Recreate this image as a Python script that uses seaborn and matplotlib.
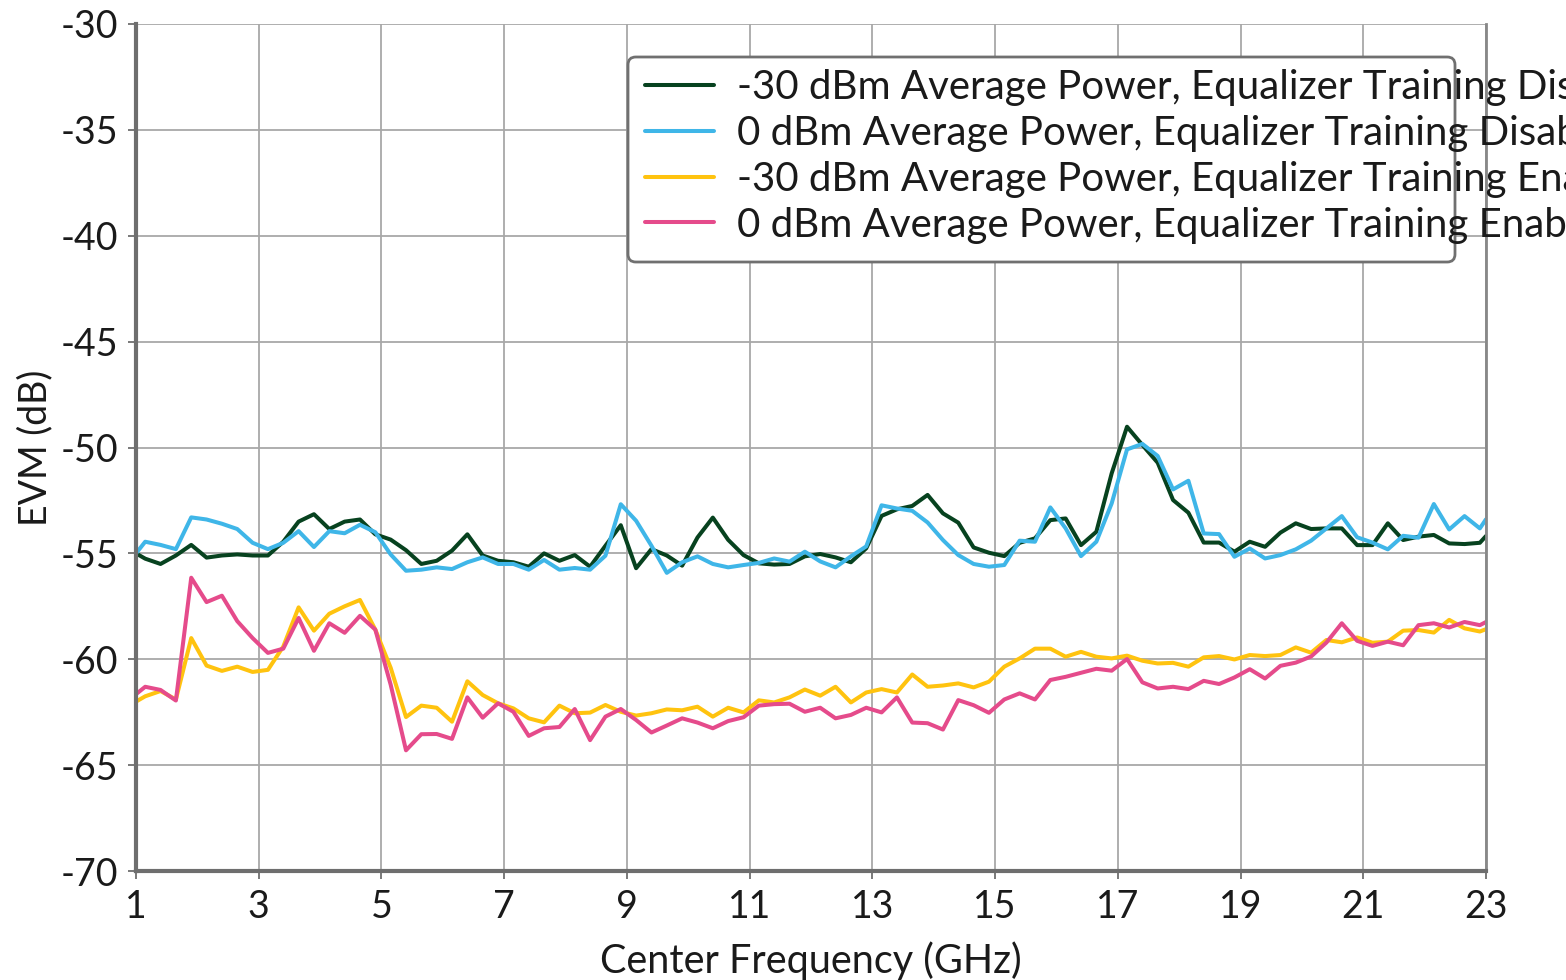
import numpy as np
import pandas as pd
import matplotlib.pyplot as plt
from matplotlib.patches import FancyBboxPatch
import seaborn as sns

# Center frequency sweep (GHz)
freq = [1.0, 1.15, 1.4, 1.65, 1.9, 2.15, 2.4, 2.65, 2.9, 3.15, 3.4, 3.65, 3.9, 4.15, 4.4,
        4.65, 4.9, 5.15, 5.4, 5.65, 5.9, 6.15, 6.4, 6.65, 6.9, 7.15, 7.4, 7.65, 7.9, 8.15,
        8.4, 8.65, 8.9, 9.15, 9.4, 9.65, 9.9, 10.15, 10.4, 10.65, 10.9, 11.15, 11.4, 11.65,
        11.9, 12.15, 12.4, 12.65, 12.9, 13.15, 13.4, 13.65, 13.9, 14.15, 14.4, 14.65, 14.9,
        15.15, 15.4, 15.65, 15.9, 16.15, 16.4, 16.65, 16.9, 17.15, 17.4, 17.65, 17.9, 18.15,
        18.4, 18.65, 18.9, 19.15, 19.4, 19.65, 19.9, 20.15, 20.4, 20.65, 20.9, 21.15, 21.4,
        21.65, 21.9, 22.15, 22.4, 22.65, 22.9, 23.0]

evm_m30_dis = [-55.0, -55.25, -55.5, -55.1, -54.6, -55.2, -55.1, -55.05, -55.1, -55.1, -54.45,
               -53.5, -53.15, -53.85, -53.5, -53.4, -54.1, -54.35, -54.85,
               -55.5, -55.35, -54.87, -54.1, -55.1, -55.35, -55.42, -55.63, -55.0, -55.35,
               -55.08, -55.63, -54.64, -53.67, -55.7, -54.8, -55.1,
               -55.58, -54.25, -53.31, -54.36, -55.08, -55.47, -55.53, -55.5, -55.14, -55.03,
               -55.19, -55.42, -54.76, -53.23, -52.92, -52.76, -52.24,
               -53.11, -53.55, -54.72, -54.97, -55.13, -54.5, -54.29, -53.43, -53.35, -54.61,
               -53.98, -51.22, -49.02, -49.88, -50.72, -52.48, -53.08, -54.49, -54.49,
               -54.92, -54.45, -54.69, -54.02, -53.58, -53.85, -53.82, -53.82, -54.61, -54.61,
               -53.58, -54.37, -54.21, -54.13, -54.53, -54.56, -54.5, -54.18]

evm_0_dis = [-55.0, -54.45, -54.6, -54.8, -53.3, -53.4, -53.6, -53.85, -54.5, -54.8, -54.5,
             -53.95, -54.7, -53.95, -54.05, -53.65, -54.0, -55.05, -55.82,
             -55.77, -55.66, -55.74, -55.42, -55.19, -55.5, -55.5, -55.77, -55.31, -55.77,
             -55.69, -55.77, -55.11, -52.68, -53.46, -54.64, -55.92,
             -55.42, -55.14, -55.5, -55.66, -55.55, -55.45, -55.24, -55.39, -54.92, -55.38,
             -55.66, -55.14, -54.67, -52.73, -52.88, -52.99, -53.54,
             -54.37, -55.08, -55.5, -55.63, -55.55, -54.4, -54.45, -52.83, -53.82, -55.13,
             -54.45, -52.64, -50.09, -49.83, -50.4, -51.98, -51.57, -54.06, -54.09,
             -55.16, -54.77, -55.24, -55.08, -54.81, -54.4, -53.82, -53.24, -54.24, -54.49,
             -54.81, -54.17, -54.26, -52.67, -53.87, -53.24, -53.82, -53.39]

evm_m30_en = [-62.0, -61.75, -61.5, -61.9, -59.0, -60.3, -60.55, -60.35, -60.6, -60.5, -59.4,
              -57.55, -58.65, -57.85, -57.5, -57.2, -58.6, -60.4, -62.73,
              -62.19, -62.29, -62.95, -61.04, -61.69, -62.08, -62.32, -62.79, -62.98, -62.19,
              -62.55, -62.52, -62.16, -62.48, -62.66, -62.55, -62.37,
              -62.41, -62.24, -62.71, -62.29, -62.51, -61.94, -62.04, -61.8, -61.43, -61.72,
              -61.3, -62.04, -61.57, -61.41, -61.57, -60.72, -61.3,
              -61.24, -61.14, -61.33, -61.06, -60.35, -59.96, -59.5, -59.5, -59.88, -59.65,
              -59.88, -59.96, -59.83, -60.07, -60.2, -60.17, -60.35, -59.91, -59.85,
              -60.01, -59.8, -59.85, -59.8, -59.44, -59.69, -59.09, -59.2, -58.97, -59.22,
              -59.17, -58.65, -58.62, -58.74, -58.14, -58.54, -58.69, -58.58]

evm_0_en = [-61.65, -61.3, -61.45, -61.95, -56.15, -57.3, -57.0, -58.2, -59.0, -59.7, -59.5,
            -58.05, -59.6, -58.3, -58.75, -57.95, -58.6, -61.2, -64.3,
            -63.54, -63.53, -63.76, -61.8, -62.76, -62.08, -62.48, -63.62, -63.26, -63.2,
            -62.35, -63.82, -62.71, -62.35, -62.87, -63.46, -63.13,
            -62.79, -62.99, -63.26, -62.92, -62.74, -62.19, -62.12, -62.1, -62.48, -62.29,
            -62.79, -62.63, -62.29, -62.51, -61.8, -62.99, -63.02,
            -63.32, -61.93, -62.17, -62.53, -61.9, -61.61, -61.9, -60.98, -60.83, -60.64,
            -60.45, -60.54, -59.99, -61.09, -61.38, -61.3, -61.41, -61.02, -61.17,
            -60.86, -60.47, -60.91, -60.31, -60.16, -59.87, -59.21, -58.3, -59.13, -59.37,
            -59.17, -59.34, -58.39, -58.3, -58.5, -58.24, -58.39, -58.24]

series_names = ["-30 dBm Average Power, Equalizer Training Disabled",
                "0 dBm Average Power, Equalizer Training Disabled",
                "-30 dBm Average Power, Equalizer Training Enabled",
                "0 dBm Average Power, Equalizer Training Enabled"]
series_colours = ["#07421f", "#3fb6e8", "#ffc30f", "#e54b8b"]

# long-form table for seaborn
df = pd.concat([
    pd.DataFrame({"freq": freq, "evm": vals, "series": name})
    for name, vals in zip(series_names, [evm_m30_dis, evm_0_dis, evm_m30_en, evm_0_en])
])

sns.set_theme(style="whitegrid")
plt.rcParams["font.family"] = ["Lato", "DejaVu Sans"]
plt.rcParams["axes.unicode_minus"] = False

fig = plt.figure(figsize=(15.66, 9.8), dpi=100)
ax = fig.add_axes([136 / 1566, 1 - 871 / 980, 1350 / 1566, 847 / 980])

sns.lineplot(data=df, x="freq", y="evm", hue="series", hue_order=series_names,
             palette=dict(zip(series_names, series_colours)), estimator=None,
             sort=False, linewidth=2.9, legend=False, ax=ax)

# Axes styling
ax.set_xlim(1, 23)
ax.set_ylim(-70, -30)
ax.set_xticks(range(1, 24, 2))
ax.set_yticks(range(-70, -29, 5))
ax.grid(True, color="#a8a8a8", linewidth=1.3)
ax.set_facecolor("white")
for side in ["left", "bottom"]:
    ax.spines[side].set_color("#6e6e6e")
    ax.spines[side].set_linewidth(3)
ax.spines["right"].set_color("#888888")
ax.spines["right"].set_linewidth(2)
ax.spines["top"].set_visible(False)
ax.tick_params(axis="both", which="major", direction="out", length=6, width=1.3,
               color="#6e6e6e", labelsize=27, labelcolor="#1a1a1a", pad=7,
               bottom=True, left=True)
ax.set_xlabel("Center Frequency (GHz)", fontsize=28.5, color="#1a1a1a", labelpad=12)
ax.set_ylabel("EVM (dB)", fontsize=27, color="#1a1a1a", labelpad=5)

# Legend frame (narrower than the text, as in the original)
frame = FancyBboxPatch((628 / 1566, 1 - 262 / 980), 827 / 1566, 205 / 980,
                       boxstyle="round,pad=0,rounding_size=0.005",
                       mutation_aspect=1566 / 980, transform=fig.transFigure,
                       facecolor="white", edgecolor="#707070", linewidth=2, zorder=2)
fig.add_artist(frame)

handles = ax.get_lines()[:4]
fig.legend(handles, series_names, loc="upper left",
           bbox_to_anchor=(645 / 1566, 1 - 69 / 980), frameon=False, fontsize=29,
           handlelength=1.72, handletextpad=0.57, labelspacing=0.22, borderpad=0,
           borderaxespad=0, labelcolor="#1a1a1a")

plt.savefig("out.png", dpi=100)
